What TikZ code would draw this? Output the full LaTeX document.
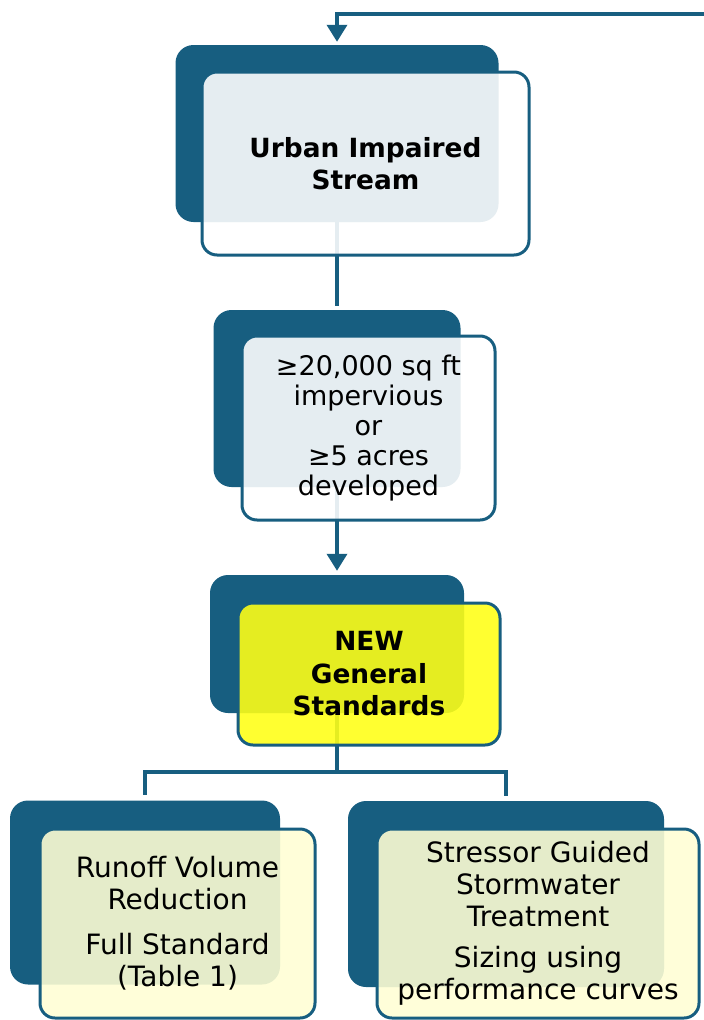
\documentclass[tikz,border=0pt]{standalone}
\usepackage{fontspec}
\setmainfont{DejaVu Sans}
\usetikzlibrary{arrows.meta}

\definecolor{navy}{RGB}{23,94,128}
\definecolor{brightyellow}{RGB}{255,255,22}
\definecolor{paleyellow}{RGB}{255,254,212}

\begin{document}
\begin{tikzpicture}[x=1pt,y=-1pt,
    back/.style={fill=navy,rounded corners=18pt,inner sep=0pt},
    front/.style={draw=navy,line width=3pt,rounded corners=15pt,
      fill opacity=0.89,text opacity=1,align=center,inner sep=0pt},
    conn/.style={navy,line width=3.6pt},
    tip/.style={-{Triangle[width=20pt,length=17pt]}},
    bigtxt/.style={font=\bfseries\fontsize{26.4}{32.5}\selectfont},
    txt/.style={font=\fontsize{28}{32}\selectfont}]
    \useasboundingbox (0,0) rectangle (704,1020);

    % dark boxes behind
    \node[back,minimum width=323pt,minimum height=177pt] (urbanback) at (337,133.5) {};
    \node[back,minimum width=247pt,minimum height=177pt] (sizeback) at (337,398.5) {};
    \node[back,minimum width=254pt,minimum height=138pt] (genback) at (337,644) {};
    \node[back,minimum width=270pt,minimum height=184pt] (runback) at (145,892.5) {};
    \node[back,minimum width=316pt,minimum height=186pt] (stressback) at (506,894) {};

    % connectors
    \coordinate (loopin) at (706,14);
    \draw[conn,tip,shorten >=3pt] (loopin) -| (urbanback.north);
    \draw[conn,shorten >=4pt] (urbanback.south) -- (sizeback.north);
    \draw[conn,tip,shorten >=4pt] (sizeback.south) -- (genback.north);
    \coordinate (split) at (337,772);
    \draw[conn] (genback.south) -- (split);
    \draw[conn,shorten >=5pt] (split) -| (runback.north);
    \draw[conn,shorten >=5pt] (split) -| (stressback.north);

    % front boxes with text
    \node[front,fill=white,bigtxt,minimum width=327pt,minimum height=183pt] (urban) at (365.5,163.5)
      {Urban Impaired\\Stream};
    \node[front,fill=white,txt,font=\fontsize{27}{30}\selectfont,minimum width=253pt,minimum height=184pt] (size) at (368.5,428)
      {≥20,000 sq ft\\impervious\\or\\≥5 acres\\developed};
    \node[front,fill=brightyellow,bigtxt,minimum width=262pt,minimum height=142pt] (gen) at (369,674)
      {NEW\\General\\Standards};
    \node[front,fill=paleyellow,txt,minimum width=275pt,minimum height=189pt] (run) at (177.5,923.5)
      {Runoff Volume\\Reduction\\[13pt]Full Standard\\(Table 1)};
    \node[front,fill=paleyellow,txt,minimum width=322pt,minimum height=189pt] (stress) at (538,923.5)
      {Stressor Guided\\Stormwater\\Treatment\\[9pt]Sizing using\\performance curves};
\end{tikzpicture}
\end{document}
